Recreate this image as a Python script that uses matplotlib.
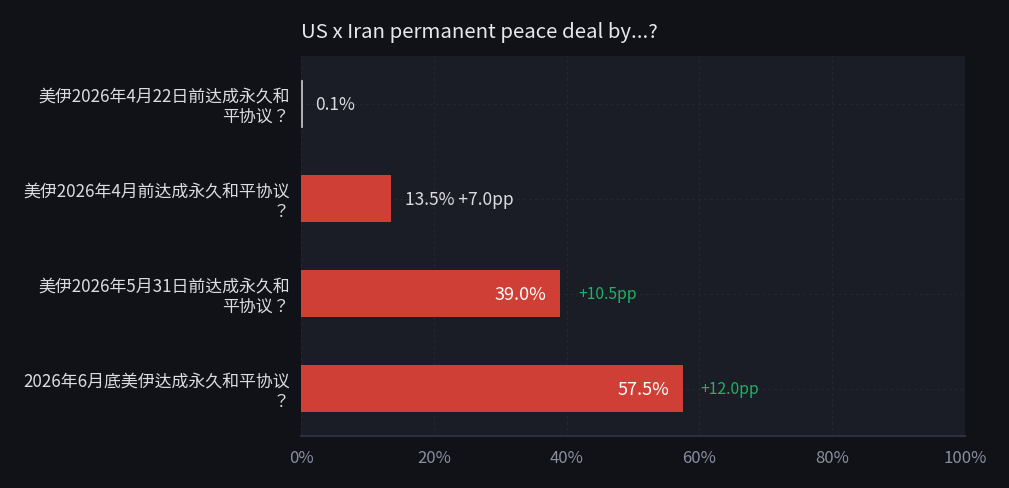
import matplotlib.pyplot as plt

plt.rcParams['font.family'] = ['Noto Sans CJK JP', 'DejaVu Sans']

# data
labels = ['美伊2026年4月22日前达成永久和\n平协议？',
          '美伊2026年4月前达成永久和平协议\n？',
          '美伊2026年5月31日前达成永久和\n平协议？',
          '2026年6月底美伊达成永久和平协议\n？']
values = [0.1, 13.5, 39.0, 57.5]
changes = [None, '+7.0pp', '+10.5pp', '+12.0pp']
title = 'US x Iran permanent peace deal by...?'

fig_bg = '#111217'
ax_bg = '#1a1c26'
bar_color = '#cf3f36'
text_color = '#dcdce0'
tick_color = '#8b8e9f'
green = '#1fb463'

fig = plt.figure(figsize=(10.09, 4.89), dpi=100, facecolor=fig_bg)
ax = fig.add_axes([0.2983, 0.1063, 0.6581, 0.7771], facecolor=ax_bg)

ypos = list(range(len(values)))
for y, v in zip(ypos, values):
    if v < 1:
        ax.barh(y, v, height=0.5, color='#c8c8cc', edgecolor='#c8c8cc', linewidth=0.5, zorder=3)
    else:
        ax.barh(y, v, height=0.5, color=bar_color, zorder=3)

# value labels: inside for large bars, outside for small ones
for y, v, ch in zip(ypos, values, changes):
    if v >= 30:
        ax.annotate(f'{v:.1f}%', (v, y), xytext=(-9.5, 0), textcoords='offset points',
                    ha='right', va='center', color='white', fontsize=13, zorder=4)
        ax.annotate(ch, (v, y), xytext=(13, 0), textcoords='offset points',
                    ha='left', va='center', color=green, fontsize=11.3, zorder=4)
    else:
        txt = f'{v:.1f}%' if ch is None else f'{v:.1f}% {ch}'
        ax.annotate(txt, (v, y), xytext=(10, 0), textcoords='offset points',
                    ha='left', va='center', color=text_color, fontsize=12.5, zorder=4)

ax.set_xlim(0, 100)
ax.set_ylim(3.5, -0.5)
ax.set_yticks(ypos)
ax.set_yticklabels(labels, color=text_color, fontsize=12.2, linespacing=1.08)
ax.set_xticks(range(0, 101, 20))
ax.set_xticklabels([f'{t}%' for t in range(0, 101, 20)], color=tick_color, fontsize=12)
ax.tick_params(axis='both', length=0)
ax.tick_params(axis='y', pad=8)
ax.tick_params(axis='x', pad=9)

ax.grid(True, color='#252834', linestyle=(0, (3, 3)), linewidth=0.7, zorder=0)
for side in ['top', 'right', 'left']:
    ax.spines[side].set_visible(False)
ax.spines['bottom'].set_color('#2e3040')
ax.spines['bottom'].set_linewidth(1.5)

fig.text(0.2983, 0.934, title, color='#e8e8ec', fontsize=14.7, ha='left', va='center')

fig.savefig('out.png', dpi=100, facecolor=fig_bg)
